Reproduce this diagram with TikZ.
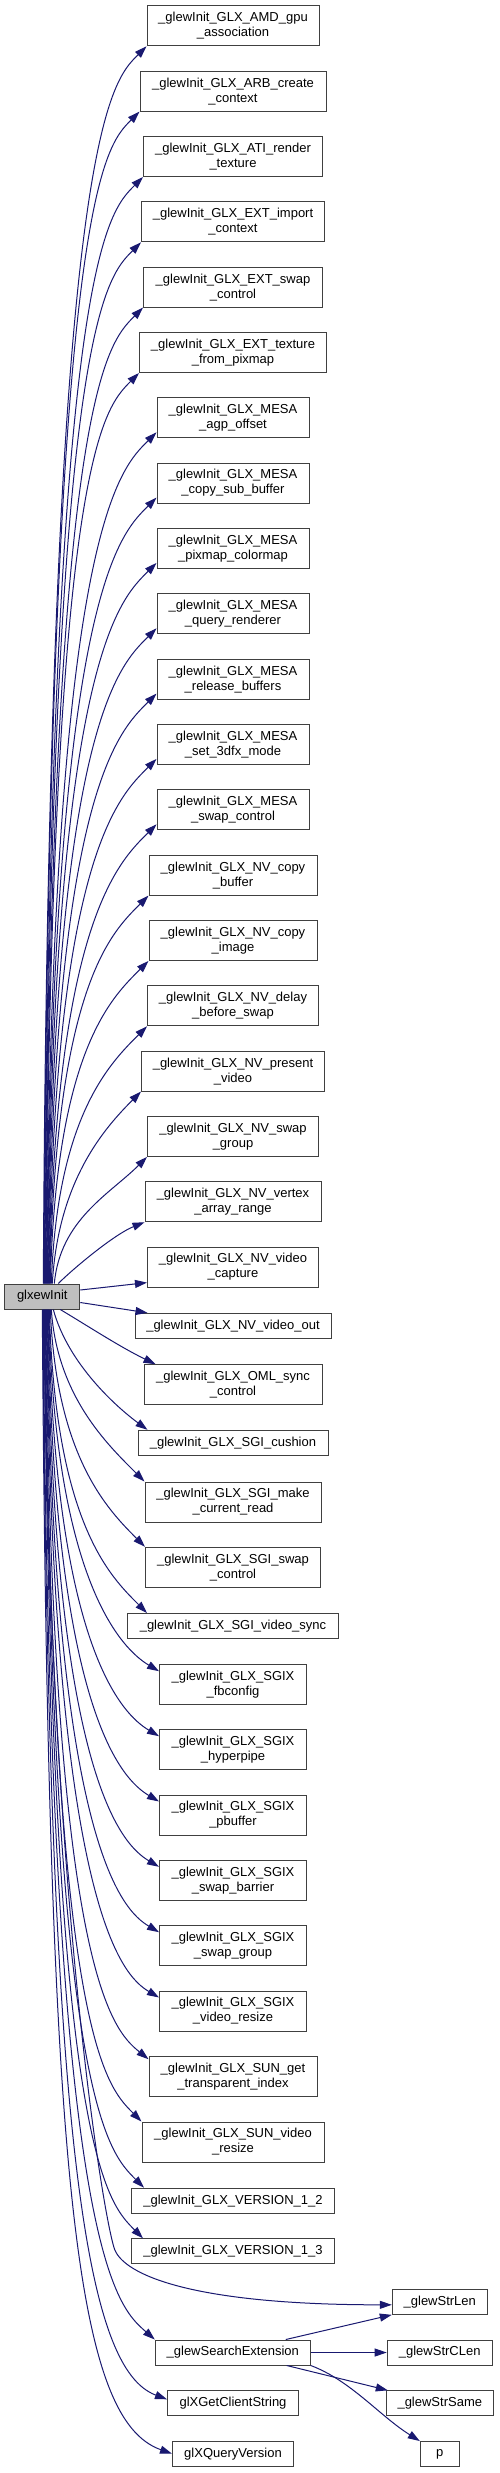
\documentclass[tikz,border=0pt]{standalone}
\usepackage{fontspec}
\setmainfont{Liberation Sans}
\usetikzlibrary{arrows.meta,calc}
\definecolor{ink}{HTML}{404040}
\definecolor{callblue}{HTML}{191970}
\definecolor{rootgray}{HTML}{BFBFBF}

\begin{document}
\begin{tikzpicture}[x=1pt,y=-1pt,font=\fontsize{13}{15}\selectfont,>={Triangle[length=12pt,width=8pt]}]
\tikzset{
  fn/.style={draw=ink,fill=white,line width=1pt,align=center,inner sep=0pt,minimum height=40pt},
  fnone/.style={fn,minimum height=25pt},
  root/.style={fnone,fill=rootgray},
  call/.style={->,draw=callblue,line width=1pt}
}
\useasboundingbox (0,0) rectangle (499,2473);

\node[root,minimum width=75pt] (glx) at (42.3,1296.5) {glxewInit};

\foreach \nm/\yy/\ww/\txt in {
  amd/25.8/172/\_glewInit\_GLX\_AMD\_gpu\\\_association,
  arb/91.1/186/\_glewInit\_GLX\_ARB\_create\\\_context,
  ati/156.5/179/\_glewInit\_GLX\_ATI\_render\\\_texture,
  eximp/221.8/183/\_glewInit\_GLX\_EXT\_import\\\_context,
  exswap/287.1/179/\_glewInit\_GLX\_EXT\_swap\\\_control,
  extex/352.5/187/\_glewInit\_GLX\_EXT\_texture\\\_from\_pixmap,
  mesaagp/417.8/152/\_glewInit\_GLX\_MESA\\\_agp\_offset,
  mesacopy/483.1/152/\_glewInit\_GLX\_MESA\\\_copy\_sub\_buffer,
  mesapix/548.4/152/\_glewInit\_GLX\_MESA\\\_pixmap\_colormap,
  mesaquery/613.8/152/\_glewInit\_GLX\_MESA\\\_query\_renderer,
  mesarel/679.1/152/\_glewInit\_GLX\_MESA\\\_release\_buffers,
  mesaset/744.4/152/\_glewInit\_GLX\_MESA\\\_set\_3dfx\_mode,
  mesaswap/809.8/152/\_glewInit\_GLX\_MESA\\\_swap\_control,
  nvcopybuf/875.1/168/\_glewInit\_GLX\_NV\_copy\\\_buffer,
  nvcopyimg/940.4/168/\_glewInit\_GLX\_NV\_copy\\\_image,
  nvdelay/1005.8/171/\_glewInit\_GLX\_NV\_delay\\\_before\_swap,
  nvpresent/1071.1/183/\_glewInit\_GLX\_NV\_present\\\_video,
  nvswapgrp/1136.4/171/\_glewInit\_GLX\_NV\_swap\\\_group,
  nvvertex/1201.7/176/\_glewInit\_GLX\_NV\_vertex\\\_array\_range,
  nvcapture/1267.1/171/\_glewInit\_GLX\_NV\_video\\\_capture,
  omlsync/1384.7/178/\_glewInit\_GLX\_OML\_sync\\\_control,
  sgimake/1502/176/\_glewInit\_GLX\_SGI\_make\\\_current\_read,
  sgiswap/1567.3/175/\_glewInit\_GLX\_SGI\_swap\\\_control,
  sgixfb/1684.7/147/\_glewInit\_GLX\_SGIX\\\_fbconfig,
  sgixhyper/1749.7/147/\_glewInit\_GLX\_SGIX\\\_hyperpipe,
  sgixpbuf/1815/147/\_glewInit\_GLX\_SGIX\\\_pbuffer,
  sgixbarrier/1880.3/147/\_glewInit\_GLX\_SGIX\\\_swap\_barrier,
  sgixgroup/1945.7/147/\_glewInit\_GLX\_SGIX\\\_swap\_group,
  sgixresize/2011/147/\_glewInit\_GLX\_SGIX\\\_video\_resize,
  sunget/2076.7/168/\_glewInit\_GLX\_SUN\_get\\\_transparent\_index,
  sunvideo/2142/182/\_glewInit\_GLX\_SUN\_video\\\_resize}{
  \node[fn,minimum width=\ww pt] (\nm) at (233,\yy) {\txt};
}

\node[fnone,minimum width=196pt] (nvout) at (233,1325.8) {\_glewInit\_GLX\_NV\_video\_out};
\node[fnone,minimum width=190pt] (sgicush) at (233,1442.8) {\_glewInit\_GLX\_SGI\_cushion};
\node[fnone,minimum width=211pt] (sgivsync) at (233,1626) {\_glewInit\_GLX\_SGI\_video\_sync};
\node[fnone,minimum width=203pt] (ver12) at (233,2200.7) {\_glewInit\_GLX\_VERSION\_1\_2};
\node[fnone,minimum width=203pt] (ver13) at (233,2251.3) {\_glewInit\_GLX\_VERSION\_1\_3};
\node[fnone,minimum width=155pt] (search) at (232.8,2352.5) {\_glewSearchExtension};
\node[fnone,minimum width=131pt] (getclient) at (233,2403.3) {glXGetClientString};
\node[fnone,minimum width=121pt] (queryver) at (233,2454) {glXQueryVersion};
\node[fnone,minimum width=95pt] (strlen) at (439.8,2301.8) {\_glewStrLen};
\node[fnone,minimum width=105pt] (strclen) at (439.7,2352.5) {\_glewStrCLen};
\node[fnone,minimum width=107pt] (strsame) at (439.8,2403.3) {\_glewStrSame};
\node[fnone,minimum width=39pt] (p) at (439.8,2454) {p};

\foreach \nm/\sx/\up/\bend/\ey in {
  amd/1/1148/37/0, arb/1.5/1083/37/0, ati/2/1018/37/0, eximp/2.5/952/37/0,
  exswap/3/887/37/0, extex/3.5/822/37/0,
  mesaagp/4/756/37/-6, mesacopy/4.5/691/37/-6, mesapix/5/626/37/-6, mesaquery/5.5/560/37/-6,
  mesarel/6/495/37/-6, mesaset/6.5/430/37/-6, mesaswap/7/364/37/-6,
  nvcopybuf/7.5/299/37/0, nvcopyimg/8/234/37/0, nvdelay/9/168/37/0,
  nvpresent/10/103/37/0, nvswapgrp/12/64/37/0}
  \draw[call] ($(glx.north)+(\sx,0)$) .. controls +(6,-\up) and +(-\bend,\bend) .. ($(\nm.south west)+(0,\ey)$);
\draw[call] ($(glx.north)+(16,0)$) .. controls +(15,-15) and +(-30,12) .. (nvvertex.south west);
\draw[call] ($(glx.east)+(0,-6.5)$) -- ($(nvcapture.south west)+(0,-5)$);
\draw[call] ($(glx.east)+(0,6)$) -- ($(nvout.north west)+(13,0)$);
\draw[call] ($(glx.south)+(18,0)$) .. controls +(30,18) and +(-35,-17) .. ($(omlsync.north west)+(12,0)$);
\draw[call] ($(glx.south)+(11,0)$) .. controls +(15,55) and +(-30,-22) .. ($(sgicush.north west)+(10,0)$);

\foreach \nm/\sx/\dn/\bx/\by/\ex/\ey in {
  sgimake/9/87/37/37/0/0, sgiswap/8/148/37/37/0/0, sgivsync/7/214/37/37/20/0,
  sgixfb/6.5/273/37/22/0/7, sgixhyper/6/338/37/22/0/7, sgixpbuf/5.5/403/37/22/0/7,
  sgixbarrier/5/468/37/22/0/7, sgixgroup/4.5/534/37/22/0/7, sgixresize/4/599/37/22/0/7,
  sunget/3.5/661/37/30/0/3, sunvideo/3/723/37/37/0/0,
  ver12/2.5/789/37/37/13/0, ver13/2/840/37/37/12/0,
  search/1/941/40/35/0/0, getclient/0.5/851/80/30/0/9, queryver/0/891/95/34/0/12.7}
  \draw[call] ($(glx.south)+(\sx,0)$) .. controls +(6,\dn) and +(-\bx,-\by) .. ($(\nm.north west)+(\ex,\ey)$);
\draw[call] ($(glx.south)+(1.5,0)$) .. controls +(6,600) and +(-10,-25) .. ($(strlen.west)+(-277,-52)$)
  .. controls +(10,25) and +(-200,0) .. ($(strlen.west)+(0,3)$);

\draw[call] ($(search.north)+(53,0)$) -- (strlen.south west);
\draw[call] (search) -- (strclen);
\draw[call] ($(search.south)+(54,0)$) -- ($(strsame.north west)+(2,0)$);
\draw[call] (search.south east) .. controls +(40,15) and +(-40,-25) .. (p.north west);
\end{tikzpicture}
\end{document}
